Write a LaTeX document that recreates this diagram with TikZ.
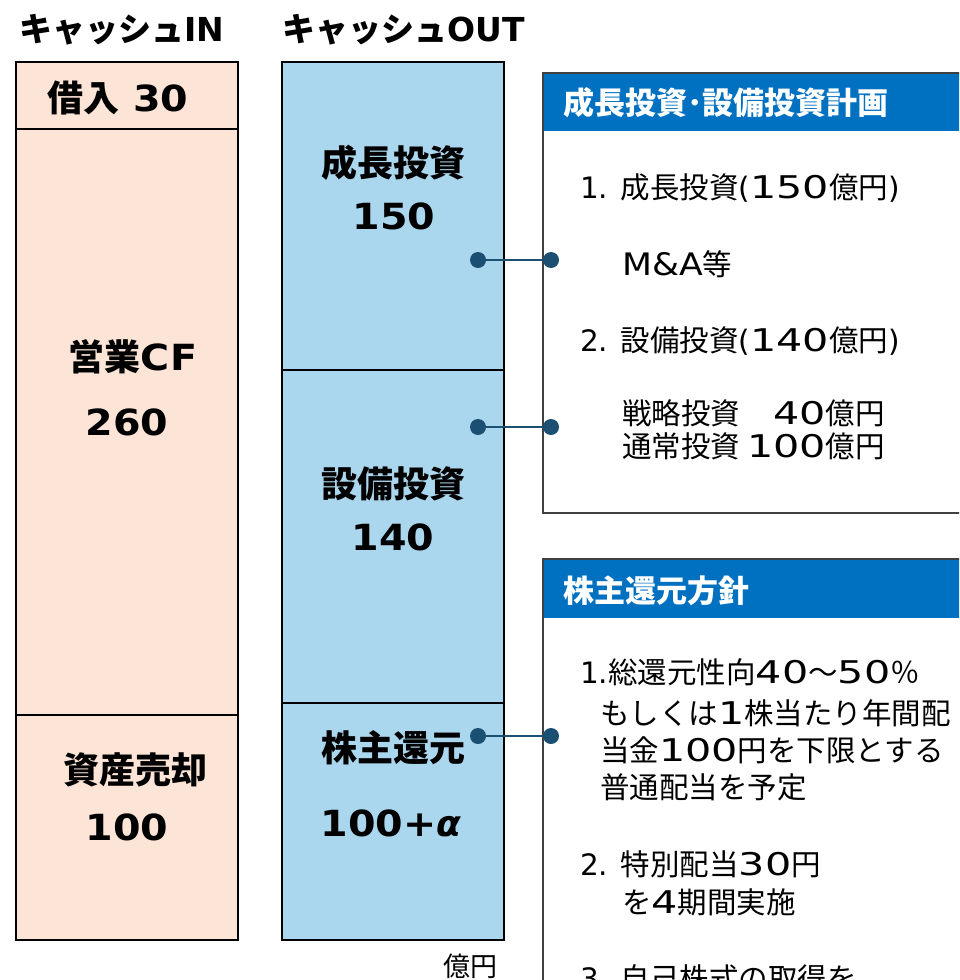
\documentclass[tikz,border=0pt]{standalone}
\usepackage{fontspec}
\setmainfont{Noto Sans CJK JP}
\newfontfamily\latfont{DejaVu Sans}
\newfontfamily\widefont{DejaVu Sans}[Scale=1.06, FakeStretch=1.32]
\newfontfamily\midfont{DejaVu Sans}[Scale=1.05, FakeStretch=1.12]
\newfontfamily\labfont{DejaVu Sans}[FakeStretch=1.1]
\newfontfamily\alphafont{DejaVu Sans Bold Oblique}
\newcommand\latn[1]{{\latfont #1}}
\newcommand\wnum[1]{{\widefont #1}}
\newcommand\mnum[1]{{\midfont #1}}
\newcommand\lnum[1]{{\labfont #1}}
\definecolor{peach}{HTML}{FCE4D6}
\definecolor{lblue}{HTML}{ABD7EE}
\definecolor{hblue}{HTML}{0070C0}
\definecolor{conn}{HTML}{1B5073}
\definecolor{bord}{HTML}{404040}
\tikzset{
  colbox/.style={draw=black, line width=1.3pt},
  biglab/.style={font=\fontsize{36}{40}\selectfont\bfseries, inner sep=0pt},
  title/.style={font=\fontsize{33}{38}\selectfont\bfseries, inner sep=0pt},
  head/.style={font=\fontsize{31}{34}\selectfont\bfseries, text=white, inner sep=0pt, anchor=west},
  body/.style={font=\fontsize{29.5}{36}\selectfont, inner sep=0pt, anchor=west},
  dot/.style={circle, fill=conn, minimum size=16pt, inner sep=0pt},
  connector/.style={draw=conn, line width=2pt},
  panel/.style={draw=bord, line width=1.5pt}
}
\begin{document}
\begin{tikzpicture}[x=1pt,y=-1pt]
\useasboundingbox (0,0) rectangle (959,980);
\clip (0,0) rectangle (959,980);
% titles
\node[title] (tin) at (122,30) {キャッシュ\latn{IN}};
\node[title] (tout) at (404,30) {キャッシュ\latn{OUT}};
% left column
\filldraw[fill=peach, colbox] (16,62) rectangle (238,129);
\filldraw[fill=peach, colbox] (16,129) rectangle (238,715);
\filldraw[fill=peach, colbox] (16,715) rectangle (238,940);
\node[biglab] (borrow) at (118,98) {借入\lnum{ 30}};
\node[biglab] (opcf) at (133,357) {営業\lnum{CF}};
\node[biglab] (opcfv) at (127,422) {\lnum{260}};
\node[biglab] (asset) at (135,770) {資産売却};
\node[biglab] (assetv) at (127,827) {\lnum{100}};
% right column
\filldraw[fill=lblue, colbox] (282,62) rectangle (504,370);
\filldraw[fill=lblue, colbox] (282,370) rectangle (504,703);
\filldraw[fill=lblue, colbox] (282,703) rectangle (504,940);
\node[biglab] (grow) at (393,163) {成長投資};
\node[biglab] (growv) at (394,216) {\lnum{150}};
\node[biglab] (capex) at (393,484) {設備投資};
\node[biglab] (capexv) at (393,537) {\lnum{140}};
\node[biglab] (ret) at (393,748) {株主還元};
\node[biglab] (retv) at (391,823) {\lnum{100+}{\alphafont α}};
\node[font=\fontsize{27}{30}\selectfont, inner sep=0pt] (unit) at (470,966) {億円};
% panel 1
\fill[hblue] (543,73) rectangle (962,131);
\draw[panel] (543,73) rectangle (962,513);
\node[head] (h1) at (563,103) {成長投資･設備投資計画};
\node[body] (p1a) at (580,188) {\latn{1. }成長投資\latn{(}\wnum{150}億円\latn{)}};
\node[body] (p1b) at (622,264) {\mnum{M\&A}等};
\node[body] (p1c) at (580,341) {\latn{2. }設備投資\latn{(}\wnum{140}億円\latn{)}};
\node[body] (p1d) at (622,434) {\begin{tabular}{@{}l@{\hspace{7pt}}r@{}}戦略投資&\wnum{40}億円\\[-3pt]通常投資&\wnum{100}億円\end{tabular}};
% panel 2
\fill[hblue] (543,559) rectangle (962,618);
\draw[panel] (543,559) rectangle (962,1000);
\node[head] (h2) at (563,591) {株主還元方針};
\node[body] (p2a) at (580,672) {\latn{1.}総還元性向\wnum{40}～\wnum{50}％};
\node[body] (p2b) at (600,713) {もしくは\wnum{1}株当たり年間配};
\node[body] (p2c) at (600,750) {当金\wnum{100}円を下限とする};
\node[body] (p2d) at (600,787) {普通配当を予定};
\node[body] (p2e) at (580,864) {\latn{2. }特別配当\wnum{30}円};
\node[body] (p2f) at (622,902) {を\wnum{4}期間実施};
\node[body] (p2g) at (580,978) {\latn{3. }自己株式の取得を};
% connectors
\node[dot] (d1a) at (478,260) {};
\node[dot] (d1b) at (551,260) {};
\node[dot] (d2a) at (478,427) {};
\node[dot] (d2b) at (551,427) {};
\node[dot] (d3a) at (478,736) {};
\node[dot] (d3b) at (551,736) {};
\draw[connector] (d1a) -- (d1b);
\draw[connector] (d2a) -- (d2b);
\draw[connector] (d3a) -- (d3b);
\end{tikzpicture}
\end{document}
